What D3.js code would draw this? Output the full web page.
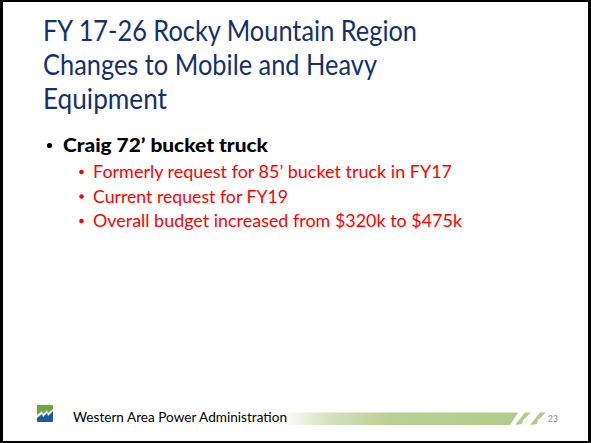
<!DOCTYPE html>
<html><head><meta charset="utf-8">
<script src="https://cdn.jsdelivr.net/npm/d3@7"></script>
<style>html,body{margin:0;padding:0;background:#fff;}svg{display:block;}</style>
</head><body>
<script>
const titleLines = ["FY 17-26 Rocky Mountain Region", "Changes to Mobile and Heavy", "Equipment"];
const titleWidths = [374, 334, 124];
const mainBullets = ["Craig 72\u2019 bucket truck"];
const mainWidths = [205];
const subBullets = ["Formerly request for 85\u2019 bucket truck in FY17", "Current request for FY19", "Overall budget increased from $320k to $475k"];
const subWidths = [359, 195, 369];
const footerText = "Western Area Power Administration";
const pageNumber = "23";

const W = 591, H = 443;
const svg = d3.select("body").append("svg").attr("width", W).attr("height", H);
svg.append("rect").attr("width", W).attr("height", H).attr("fill", "#fff");

const font = "Lato, 'Open Sans', sans-serif";

// title
const yTitle = d3.scalePoint().domain(d3.range(titleLines.length)).range([41, 109]);
svg.selectAll("text.title").data(titleLines).join("text")
  .attr("class", "title")
  .attr("x", 43).attr("y", (d, i) => yTitle(i))
  .attr("font-family", font).attr("font-size", 28.5).attr("font-weight", 400)
  .attr("fill", "#16306b")
  .attr("textLength", (d, i) => titleWidths[i]).attr("lengthAdjust", "spacingAndGlyphs")
  .text(d => d);

// main bullet
svg.selectAll("g.mb").data(mainBullets).join("g").attr("class", "mb").each(function(d, i) {
  const g = d3.select(this);
  g.append("circle").attr("cx", 49.5).attr("cy", 145.5 + i * 26).attr("r", 2.6).attr("fill", "#000");
  g.append("text").attr("x", 63).attr("y", 151.5 + i * 26)
    .attr("font-family", font).attr("font-size", 19.5).attr("font-weight", 900).attr("fill", "#000")
    .attr("textLength", mainWidths[i]).attr("lengthAdjust", "spacingAndGlyphs").text(d);
});

// sub bullets
const ySub = d3.scalePoint().domain(d3.range(subBullets.length)).range([178, 227]);
svg.selectAll("g.sb").data(subBullets).join("g").attr("class", "sb").each(function(d, i) {
  const g = d3.select(this);
  g.append("circle").attr("cx", 81.5).attr("cy", ySub(i) - 6).attr("r", 2.3).attr("fill", "#ff0000");
  g.append("text").attr("x", 93).attr("y", ySub(i))
    .attr("font-family", font).attr("font-size", 17.5).attr("fill", "#ff0000")
    .attr("textLength", subWidths[i]).attr("lengthAdjust", "spacingAndGlyphs").text(d);
});

// footer gradient bar
const defs = svg.append("defs");
const grad = defs.append("linearGradient").attr("id", "gbar").attr("gradientUnits", "userSpaceOnUse")
  .attr("x1", 282).attr("x2", 519).attr("y1", 0).attr("y2", 0);
grad.append("stop").attr("offset", 0).attr("stop-color", "#ffffff");
grad.append("stop").attr("offset", 0.2).attr("stop-color", "#d3e2bd");
grad.append("stop").attr("offset", 0.45).attr("stop-color", "#b9d095");
grad.append("stop").attr("offset", 1).attr("stop-color", "#b2cb89");
svg.append("path").attr("fill", "url(#gbar)")
  .attr("d", "M282,412.5 L518,412.5 L510,425 L282,425 Z");
// teeth
svg.append("path").attr("fill", "#b2cb89").attr("d", "M515,425 L525,412.5 L531,412.5 L523,420 L522,424 Z");
svg.append("path").attr("fill", "#b2cb89").attr("d", "M530,425 L540,412.5 L546,412.5 L538,420 L537,424 Z");

svg.append("text").attr("x", 548).attr("y", 422).attr("font-family", font).attr("font-size", 8.5)
  .attr("fill", "#8a8a8a").text(pageNumber);

// logo
const lg = svg.append("g");
lg.append("rect").attr("x", 37).attr("y", 405).attr("width", 16).attr("height", 17).attr("rx", 1).attr("fill", "#1d5a9e");
lg.append("path").attr("fill", "#6aab3a").attr("d", "M37,405 L53,405 L53,409 L48,413 L47,410 L43,414 L42,411 L37,415 Z");
lg.append("path").attr("fill", "#fff").attr("d", "M37,415 L42,411 L43,414 L47,410 L48,413 L53,409 L53,411 L48,416 L47,413 L43,417 L42,414 L37,418 Z");

svg.append("text").attr("x", 73).attr("y", 421.5).attr("font-family", font).attr("font-size", 12.5)
  .attr("fill", "#000").attr("textLength", 214).attr("lengthAdjust", "spacingAndGlyphs").text(footerText);

// border
svg.append("rect").attr("x", 0).attr("y", 0).attr("width", 3).attr("height", H).attr("fill", "#000");
svg.append("rect").attr("x", 0).attr("y", 0).attr("width", W).attr("height", 2).attr("fill", "#000");
svg.append("rect").attr("x", 588).attr("y", 0).attr("width", 3).attr("height", H).attr("fill", "#000");
svg.append("rect").attr("x", 0).attr("y", 441).attr("width", W).attr("height", 2).attr("fill", "#000");
</script>
</body></html>
